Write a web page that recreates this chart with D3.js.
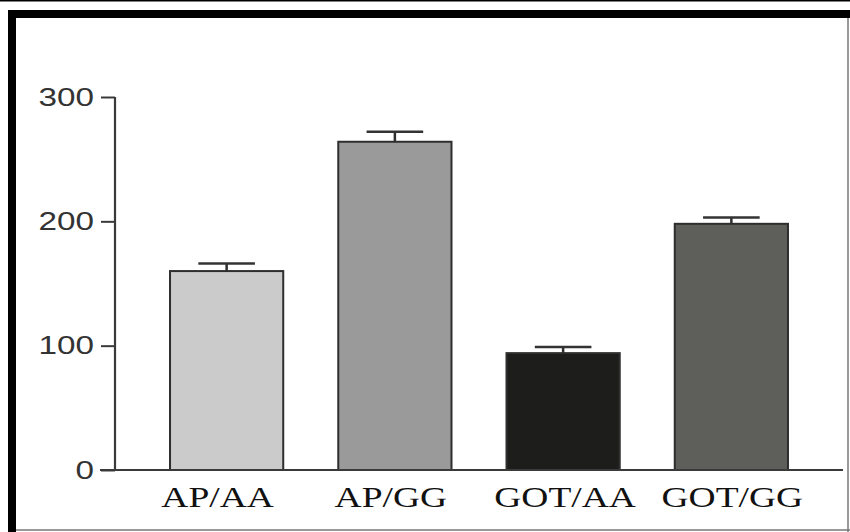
<!DOCTYPE html>
<html>
<head>
<meta charset="utf-8">
<script src="https://cdn.jsdelivr.net/npm/d3@7"></script>
<style>
  html, body { margin: 0; padding: 0; background: #fff; }
  svg { display: block; }
</style>
</head>
<body>
<svg id="chart" width="850" height="532"></svg>
<script>
const categories = ["AP/AA", "AP/GG", "GOT/AA", "GOT/GG"];
const values = [160, 264, 94, 198];
const errors = [6, 8, 5, 5];
const fills = ["#cbcbcb", "#9a9a9a", "#1d1d1b", "#5e5e5b"];
const yTicks = [0, 100, 200, 300];

// small hand-placement nudges of the category labels seen in the original figure (px)
const labelNudge = [-9, -4, 2, 1];

const svg = d3.select("#chart");
const W = 850, H = 532;

// Frame
svg.append("rect").attr("x", 0).attr("y", 0).attr("width", W).attr("height", 1.5).attr("fill", "#000");
svg.append("rect").attr("x", 8).attr("y", 10).attr("width", W - 8).attr("height", 8).attr("fill", "#000");
svg.append("rect").attr("x", 8).attr("y", 10).attr("width", 8).attr("height", H - 10).attr("fill", "#000");
svg.append("line").attr("x1", 848).attr("x2", 848).attr("y1", 18).attr("y2", H).attr("stroke", "#777").attr("stroke-width", 1.5);
svg.append("line").attr("x1", 16).attr("x2", W).attr("y1", 530).attr("y2", 530).attr("stroke", "#777").attr("stroke-width", 1.5);

const x = d3.scaleBand().domain(categories).range([115, 843]).paddingInner(0.327).paddingOuter(0.327);
const y = d3.scaleLinear().domain([0, 300]).range([470, 97]);

const axisColor = "#3a3a3a";

// Bars
const g = svg.append("g");
g.selectAll("rect.bar").data(categories).join("rect")
  .attr("class", "bar")
  .attr("x", d => x(d))
  .attr("y", (d, i) => y(values[i]))
  .attr("width", x.bandwidth())
  .attr("height", (d, i) => y(0) - y(values[i]))
  .attr("fill", (d, i) => fills[i])
  .attr("stroke", "#2e2e2e")
  .attr("stroke-width", 2);

// Error bars
const capW = x.bandwidth() * 0.5;
categories.forEach((c, i) => {
  const cx = x(c) + x.bandwidth() / 2;
  g.append("line").attr("x1", cx).attr("x2", cx)
    .attr("y1", y(values[i])).attr("y2", y(values[i] + errors[i]))
    .attr("stroke", "#2e2e2e").attr("stroke-width", 2.5);
  g.append("line").attr("x1", cx - capW / 2).attr("x2", cx + capW / 2)
    .attr("y1", y(values[i] + errors[i])).attr("y2", y(values[i] + errors[i]))
    .attr("stroke", "#333").attr("stroke-width", 2.5);
});

// Y axis
const yAxis = svg.append("g").attr("transform", "translate(115,0)")
  .call(d3.axisLeft(y).tickValues(yTicks).tickSize(14).tickPadding(7).tickSizeOuter(0));
yAxis.select(".domain").attr("stroke", axisColor).attr("stroke-width", 2.2)
  .attr("d", `M0,${y(300)}V${y(0)}`);
yAxis.selectAll(".tick line").attr("stroke", axisColor).attr("stroke-width", 2);
yAxis.selectAll(".tick text")
  .attr("font-family", "'Liberation Sans', Arial, sans-serif")
  .attr("font-size", 25)
  .attr("fill", "#333")
  .attr("dy", "0.33em")
  .each(function() {
    const w = this.getComputedTextLength();
    d3.select(this).attr("textLength", w * 1.33).attr("lengthAdjust", "spacingAndGlyphs");
  });

// X axis line
svg.append("line").attr("x1", 100).attr("x2", 843).attr("y1", y(0)).attr("y2", y(0))
  .attr("stroke", axisColor).attr("stroke-width", 2);

// Category labels
svg.append("g").selectAll("text").data(categories).join("text")
  .attr("x", (d, i) => x(d) + x.bandwidth() / 2 + labelNudge[i])
  .attr("y", 507)
  .attr("text-anchor", "middle")
  .attr("font-family", "'Liberation Serif', 'Times New Roman', serif")
  .attr("font-size", 30)
  .attr("fill", "#111")
  .text(d => d)
  .each(function() {
    const w = this.getComputedTextLength();
    d3.select(this).attr("textLength", w * 1.25).attr("lengthAdjust", "spacingAndGlyphs");
  });
</script>
</body>
</html>
